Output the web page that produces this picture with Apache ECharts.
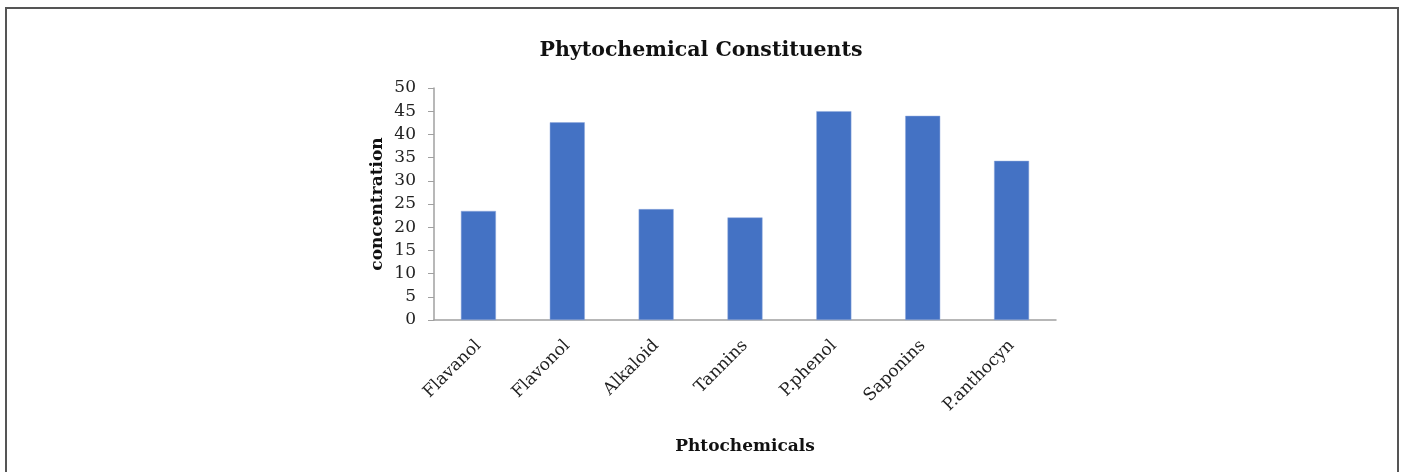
<!DOCTYPE html>
<html>
<head>
<meta charset="utf-8">
<script src="https://cdn.jsdelivr.net/npm/echarts@6/dist/echarts.min.js"></script>
<style>
  html, body { margin: 0; padding: 0; background: #fff; }
  #chart { width: 1402px; height: 472px; }
</style>
</head>
<body>
<div id="chart"></div>
<script>
// Phytochemical constituents measured in the extract
const categories = ['Flavanol', 'Flavonol', 'Alkaloid', 'Tannins', 'P.phenol', 'Saponins', 'P.anthocyn'];
const concentration = [23.5, 42.6, 23.9, 22.1, 45.0, 44.0, 34.3];
const yTicks = { min: 0, max: 50, interval: 5 };

const serif = '"DejaVu Serif", "Liberation Serif", serif';

const chart = echarts.init(document.getElementById('chart'), null, { renderer: 'canvas' });
chart.setOption({
  animation: false,
  backgroundColor: '#fff',
  title: {
    text: 'Phytochemical Constituents',
    left: 'center',
    top: 35,
    textStyle: { fontFamily: serif, fontWeight: 'bold', fontSize: 20.5, color: '#111' }
  },
  graphic: [{
    type: 'rect',
    shape: { x: 6, y: 8, width: 1392, height: 480 },
    style: { fill: 'none', stroke: '#555', lineWidth: 2 },
    silent: true
  }],
  grid: { left: 434, right: 346, top: 88, bottom: 152, containLabel: false },
  xAxis: {
    type: 'category',
    data: categories,
    name: 'Phtochemicals',
    nameLocation: 'middle',
    nameGap: 118,
    nameTextStyle: { fontFamily: serif, fontWeight: 'bold', fontSize: 17, color: '#111' },
    axisLine: { lineStyle: { color: '#a0a0a0', width: 1.5 } },
    axisTick: { show: false },
    axisLabel: { rotate: 45, fontFamily: serif, fontSize: 17, color: '#222', margin: 23 }
  },
  yAxis: {
    type: 'value',
    min: yTicks.min,
    max: yTicks.max,
    interval: yTicks.interval,
    name: 'concentration',
    nameLocation: 'middle',
    nameGap: 48,
    nameTextStyle: { fontFamily: serif, fontWeight: 'bold', fontSize: 17, color: '#111' },
    splitLine: { show: false },
    axisLine: { show: true, lineStyle: { color: '#a0a0a0', width: 1.5 } },
    axisTick: { show: true, length: 6, lineStyle: { color: '#a0a0a0' } },
    axisLabel: { fontFamily: serif, fontSize: 17, color: '#222', margin: 18 }
  },
  series: [{
    type: 'bar',
    data: concentration,
    barWidth: 35,
    itemStyle: { color: '#4472c4', borderColor: '#8fa9dc', borderWidth: 0.5 }
  }]
});
</script>
</body>
</html>
